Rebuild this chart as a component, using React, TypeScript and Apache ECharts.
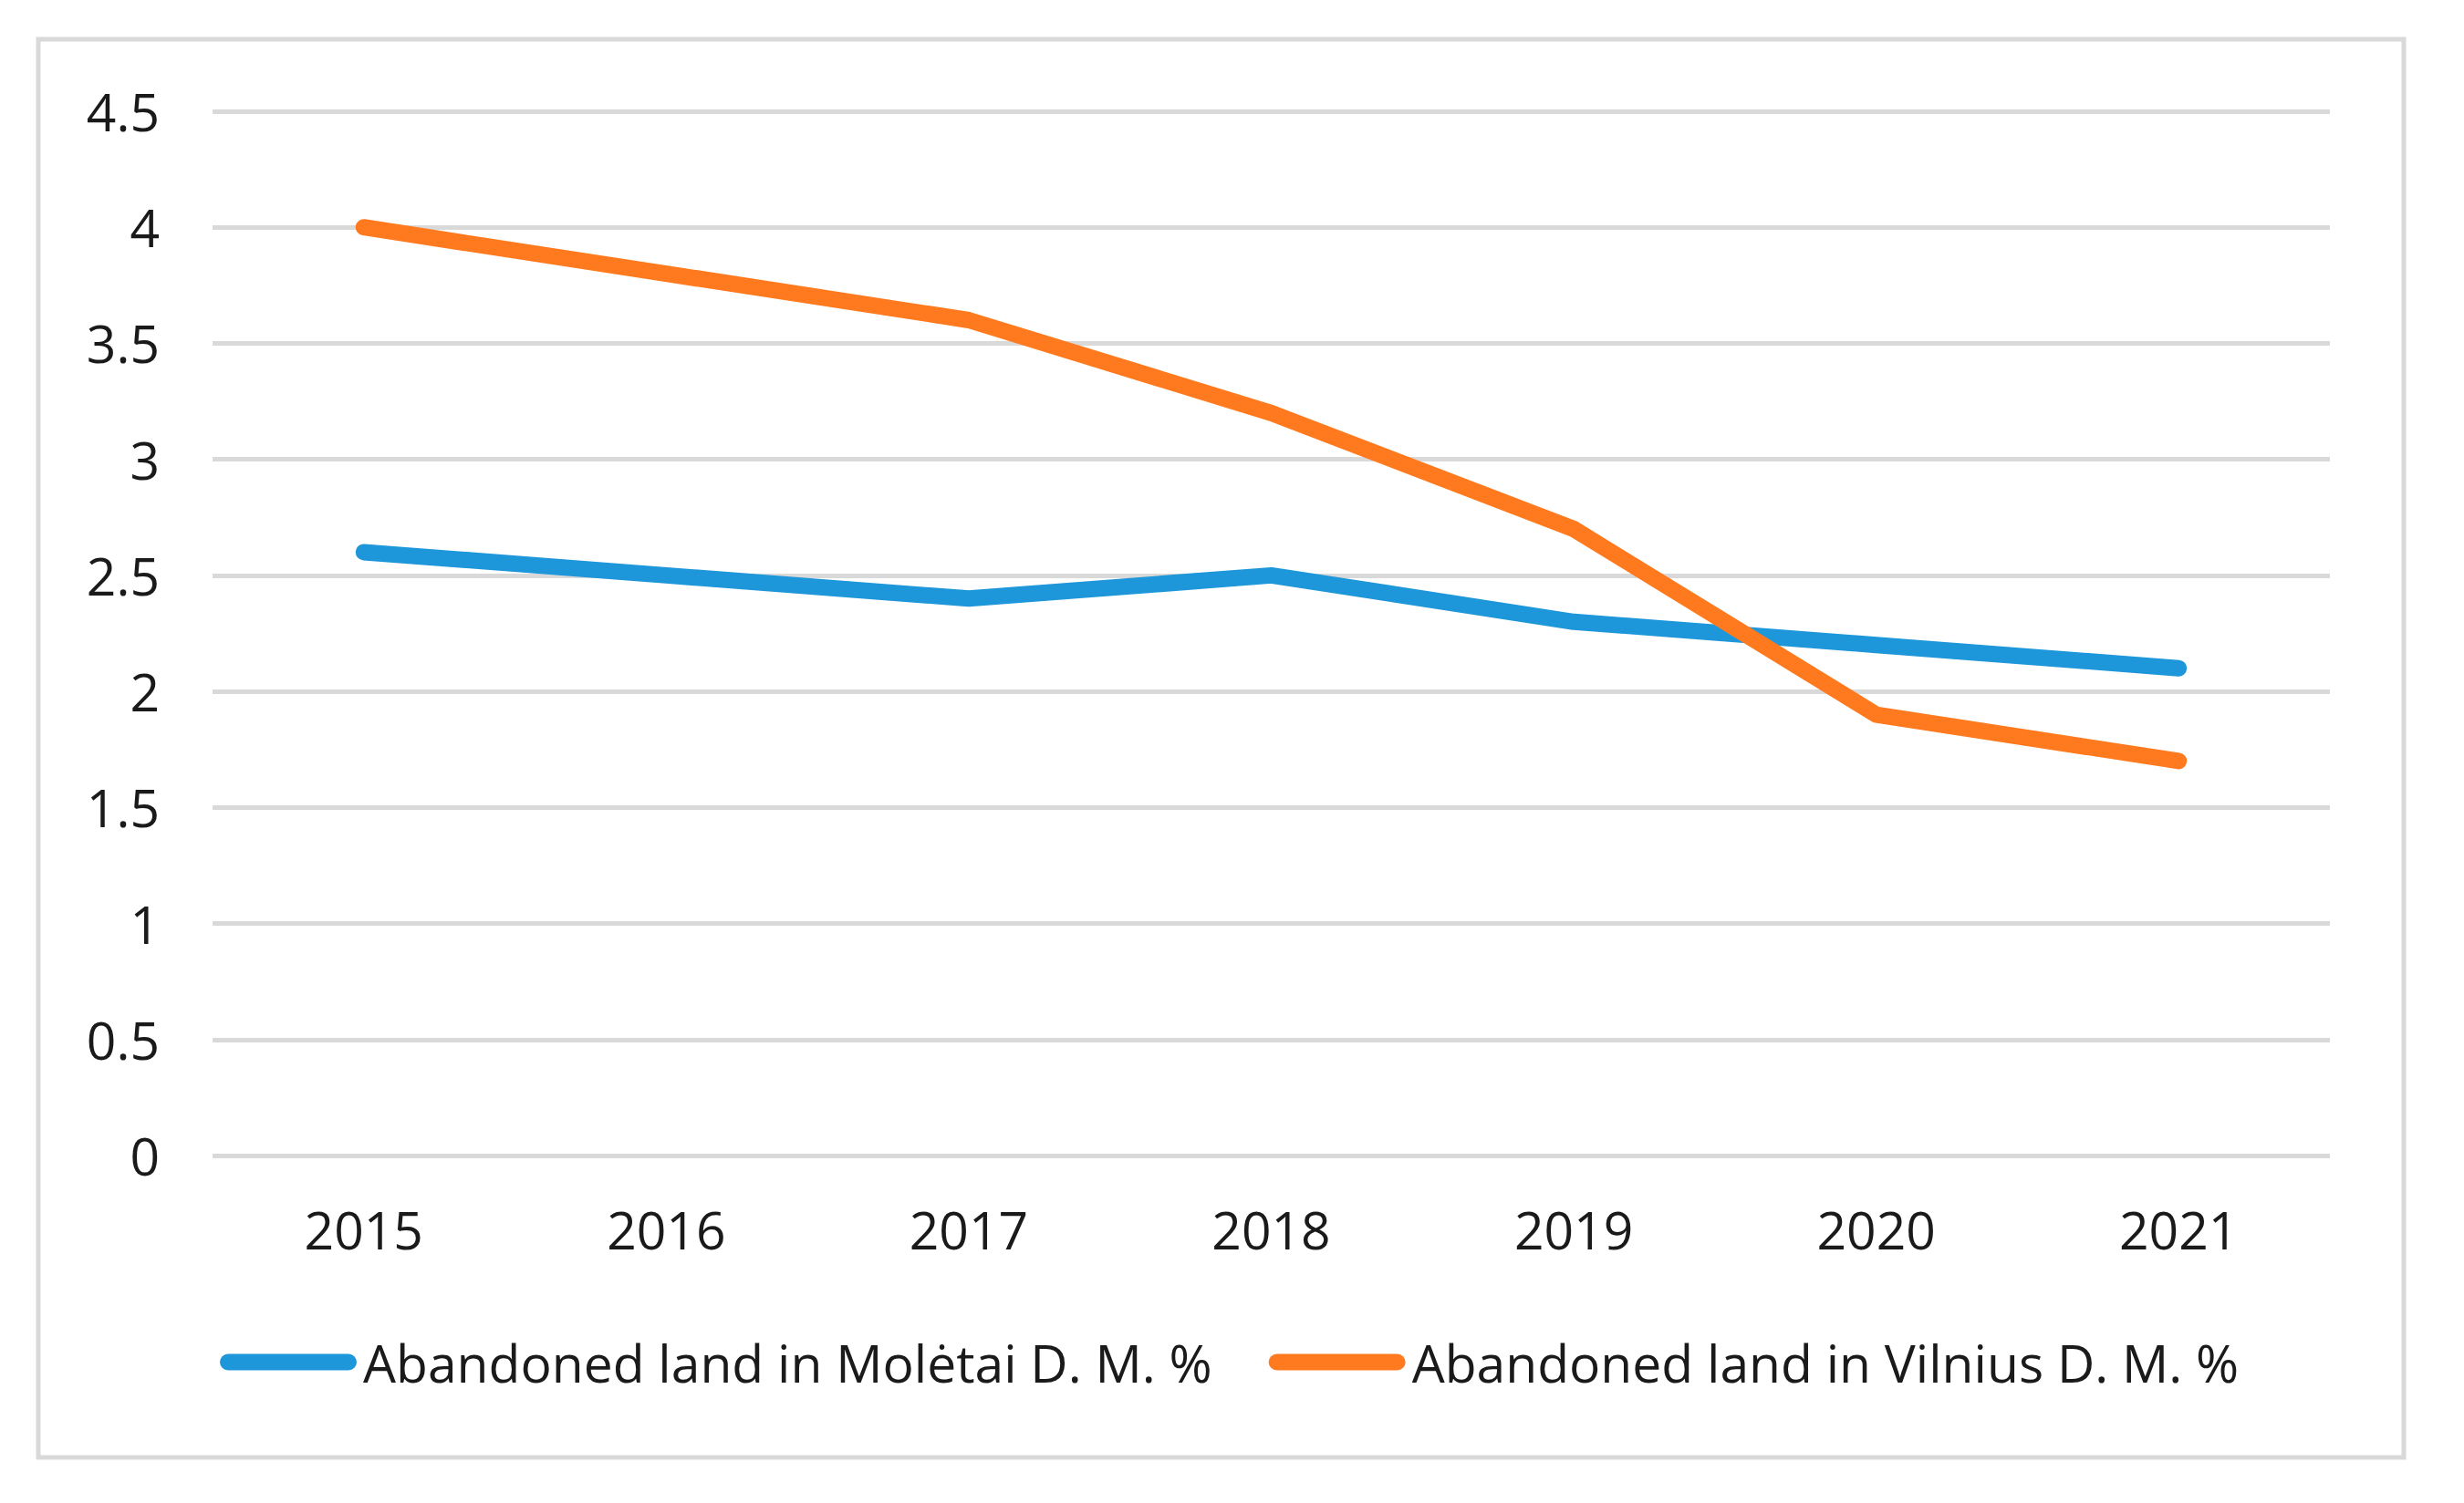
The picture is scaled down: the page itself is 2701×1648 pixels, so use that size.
import React, { useEffect, useRef } from "react";
import * as echarts from "echarts";

const years = ["2015", "2016", "2017", "2018", "2019", "2020", "2021"];
const moletai = [2.6, 2.5, 2.4, 2.5, 2.3, 2.2, 2.1];
const vilnius = [4.0, 3.8, 3.6, 3.2, 2.7, 1.9, 1.7];
const seriesNames = ["Abandoned land in Molėtai D. M. %", "Abandoned land in Vilnius D. M. %"];
const colors = ["#1E96DA", "#FF7A1E"];

const FONT = "Open Sans";

export default function App() {
  const ref = useRef<HTMLDivElement>(null);
  useEffect(() => {
    if (!ref.current) return;
    const chart = echarts.init(ref.current, null, { renderer: "svg" });
    const legendIcon = "path://M9,0 H141 A9,9 0 0 1 141,18 H9 A9,9 0 0 1 9,0 Z";
    chart.setOption({
      animation: false,
      backgroundColor: "#ffffff",
      textStyle: { fontFamily: FONT },
      grid: { left: 233, right: 147, top: 122, bottom: 381, containLabel: false },
      xAxis: {
        type: "category",
        data: years,
        boundaryGap: true,
        axisLine: { show: false },
        axisTick: { show: false },
        axisLabel: { color: "#1a1a1a", fontSize: 57, fontFamily: FONT, margin: 52 },
      },
      yAxis: {
        type: "value",
        min: 0,
        max: 4.5,
        interval: 0.5,
        axisLine: { show: false },
        axisTick: { show: false },
        axisLabel: { color: "#1a1a1a", fontSize: 57, fontFamily: FONT, margin: 58 },
        splitLine: { lineStyle: { color: "#D9D9D9", width: 5 } },
      },
      legend: {
        left: 236,
        top: 1460,
        itemWidth: 150,
        itemHeight: 18,
        itemGap: 62,
        icon: legendIcon,
        textStyle: { color: "#1a1a1a", fontSize: 57, fontFamily: FONT, padding: [0, 0, 0, 2] },
        data: seriesNames,
      },
      graphic: [
        {
          type: "rect",
          shape: { x: 42, y: 43, width: 2593, height: 1555 },
          style: { fill: "none", stroke: "#D9D9D9", lineWidth: 5 },
          silent: true,
        },
      ],
      series: [
        {
          name: seriesNames[0],
          type: "line",
          data: moletai,
          color: colors[0],
          symbol: "none",
          lineStyle: { width: 18, color: colors[0], cap: "round", join: "round" },
        },
        {
          name: seriesNames[1],
          type: "line",
          data: vilnius,
          color: colors[1],
          symbol: "none",
          lineStyle: { width: 18, color: colors[1], cap: "round", join: "round" },
        },
      ],
    });
    return () => chart.dispose();
  }, []);
  return (
    <div
      ref={ref}
      style={{ position: "fixed", left: 0, top: 0, width: 2701, height: 1648 }}
    />
  );
}
